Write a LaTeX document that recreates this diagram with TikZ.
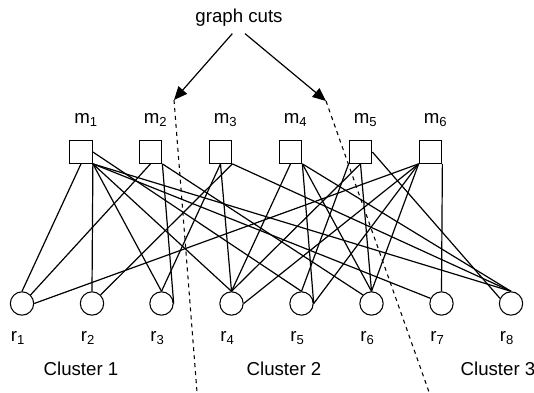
\documentclass[tikz,border=0pt]{standalone}
\usepackage{fontspec}
\setmainfont{Liberation Sans}
\usetikzlibrary{arrows.meta}

\begin{document}
\begin{tikzpicture}[x=0.75pt,y=0.75pt,yscale=-1]
\useasboundingbox (0,0) rectangle (534,392);
\tikzset{
  movie/.style={draw, rectangle, minimum size=17pt, inner sep=0pt, line width=0.8pt},
  rater/.style={draw, circle, minimum size=17.5pt, inner sep=0pt, line width=0.8pt},
  lbl/.style={font=\fontsize{14}{16}\selectfont, inner sep=0pt},
  link/.style={line width=0.9pt},
  cut/.style={line width=0.8pt, dash pattern=on 3pt off 3pt},
  cutarrow/.style={line width=0.9pt, -{Triangle[length=10pt,width=8.5pt]}}
}

%movies
\node[movie] (m1) at (81,152) {};
\node[movie] (m2) at (150.5,152) {};
\node[movie] (m3) at (220.5,152) {};
\node[movie] (m4) at (290.5,152) {};
\node[movie] (m5) at (360.5,152) {};
\node[movie] (m6) at (430.5,152) {};

%raters
\node[rater] (r1) at (22,303.5) {};
\node[rater] (r2) at (92,303.5) {};
\node[rater] (r3) at (161.5,303.5) {};
\node[rater] (r4) at (231.5,303.5) {};
\node[rater] (r5) at (301.5,303.5) {};
\node[rater] (r6) at (371.5,303.5) {};
\node[rater] (r7) at (441.5,303.5) {};
\node[rater] (r8) at (511,303.5) {};

%labels
\node[lbl] (lm1) at (86,120) {m\textsubscript{1}};
\node[lbl] (lm2) at (155.5,120) {m\textsubscript{2}};
\node[lbl] (lm3) at (225.5,120) {m\textsubscript{3}};
\node[lbl] (lm4) at (295.5,120) {m\textsubscript{4}};
\node[lbl] (lm5) at (365.5,120) {m\textsubscript{5}};
\node[lbl] (lm6) at (435.5,120) {m\textsubscript{6}};
\node[lbl] (lr1) at (18,338) {r\textsubscript{1}};
\node[lbl] (lr2) at (88,338) {r\textsubscript{2}};
\node[lbl] (lr3) at (157.5,338) {r\textsubscript{3}};
\node[lbl] (lr4) at (227.5,338) {r\textsubscript{4}};
\node[lbl] (lr5) at (297.5,338) {r\textsubscript{5}};
\node[lbl] (lr6) at (367.5,338) {r\textsubscript{6}};
\node[lbl] (lr7) at (437.5,338) {r\textsubscript{7}};
\node[lbl] (lr8) at (507,338) {r\textsubscript{8}};
\node[lbl] (c1) at (81,369) {Cluster 1};
\node[lbl] (c2) at (284,369) {Cluster 2};
\node[lbl] (c3) at (498,369) {Cluster 3};
\node[lbl] (title) at (239,18) {graph cuts};

%edges
\draw[link] (m1.south) -- (r1.north);
\draw[link] (m1.south east) -- (r2.north);
\draw[link] (m1.south east) -- (r3.north);
\draw[link] (m1.south east) -- (r4.north);
\draw[link] (m1.east) -- (r5.north);
\draw[link] (m1.south east) -- (r7.155);
\draw[link] (m1.south east) -- (r8.north);
\draw[link] (m2.south) -- (r1.north east);
\draw[link] (m2.south east) -- (r3.east);
\draw[link] (m2.south east) -- (r6.north west);
\draw[link] (m3.south east) -- (r2.north east);
\draw[link] (m3.south) -- (r3.north);
\draw[link] (m3.south) -- (r4.north);
\draw[link] (m3.south east) -- (r8.north);
\draw[link] (m4.south) -- (r4.north);
\draw[link] (m4.south east) -- (r5.east);
\draw[link] (m4.south east) -- (r6.north);
\draw[link] (m4.south east) -- (r8.north);
\draw[link] (m5.south) -- (r4.north);
\draw[link] (m5.south west) -- (r5.north);
\draw[link] (m5.south) -- (r6.north);
\draw[link] (m5.east) -- (r8.155);
\draw[link] (m6.south west) -- (r1.east);
\draw[link] (m6.south west) -- (r4.east);
\draw[link] (m6.south west) -- (r5.east);
\draw[link] (m6.south west) -- (r6.north);
\draw[link] (m6.south east) -- (r7.north);

%cuts
\coordinate (tipA) at (174,100);
\coordinate (tipB) at (326,101);
\coordinate (endA) at (197,392);
\coordinate (endB) at (429,392);
\draw[cut] (tipA) -- (endA);
\draw[cut] (tipB) -- (endB);
\draw[cutarrow] ([xshift=-5pt,yshift=5pt]title.south) -- (tipA);
\draw[cutarrow] ([xshift=4.5pt,yshift=5pt]title.south) -- (tipB);

\end{tikzpicture}
\end{document}
